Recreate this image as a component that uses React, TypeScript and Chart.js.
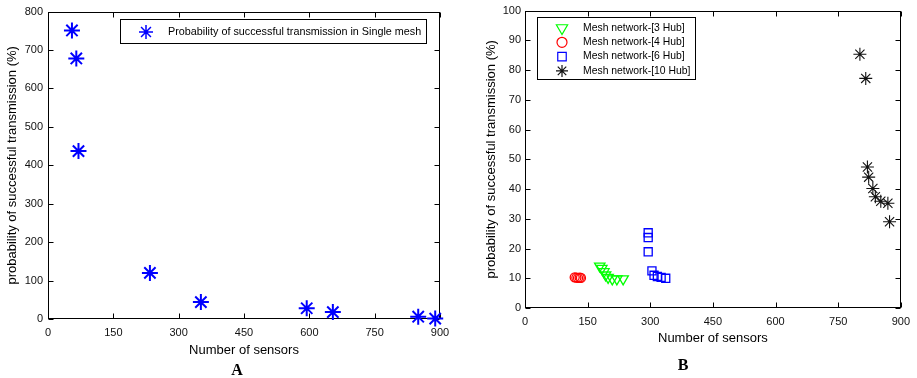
import React, { useEffect, useRef } from 'react';
import { Chart, registerables } from 'chart.js';
import { drawPoint } from 'chart.js/helpers';

Chart.register(...registerables);

// ---------- data ----------
const xTicks = [0, 150, 300, 450, 600, 750, 900];
const yTicksA = [0, 100, 200, 300, 400, 500, 600, 700, 800];
const yTicksB = [0, 10, 20, 30, 40, 50, 60, 70, 80, 90, 100];

const singleMeshX = [55, 65, 70, 234, 351, 594, 654, 850, 889];
const singleMeshY = [751, 678, 437, 120, 44, 28, 18, 6, 1];

const hub3X = [179, 184, 189, 193, 199, 209, 220, 235];
const hub3Y = [14.1, 13.3, 12.2, 11.1, 10.3, 9.8, 9.8, 9.8];
const hub4X = [119, 123, 127, 131, 134];
const hub4Y = [10.3, 10.2, 10.1, 10.2, 10.1];
const hub6X = [295, 295, 295, 304, 309, 317, 326, 337];
const hub6Y = [25.3, 23.7, 18.9, 12.5, 11.0, 10.6, 10.3, 10.0];
const hub10X = [802, 816, 820, 823, 833, 839, 852, 869, 873];
const hub10Y = [85.3, 77.2, 47.4, 44.0, 40.2, 37.4, 35.9, 35.2, 29.0];

const FONT = '"Liberation Sans", Arial, Helvetica, sans-serif';

const pts = (xs: number[], ys: number[]) => xs.map((x, i) => ({ x, y: ys[i] }));

// ---------- plugins ----------
const framePlugin = {
  id: 'frame',
  beforeDatasetsDraw(chart: any) {
    const { ctx, chartArea: a, scales } = chart;
    ctx.save();
    ctx.strokeStyle = '#000';
    ctx.lineWidth = 1;
    const L = Math.round(a.left) + 0.5;
    const R = Math.round(a.right) - 0.5;
    const T = Math.round(a.top) + 0.5;
    const B = Math.round(a.bottom) - 0.5;
    ctx.strokeRect(L, T, R - L, B - T);
    const tl = 5;
    ctx.beginPath();
    scales.x.ticks.forEach((t: any) => {
      const px = Math.round(scales.x.getPixelForValue(t.value)) + 0.5;
      ctx.moveTo(px, B);
      ctx.lineTo(px, B - tl);
      ctx.moveTo(px, T);
      ctx.lineTo(px, T + tl);
    });
    scales.y.ticks.forEach((t: any) => {
      const py = Math.round(scales.y.getPixelForValue(t.value)) + 0.5;
      ctx.moveTo(L, py);
      ctx.lineTo(L + tl, py);
      ctx.moveTo(R, py);
      ctx.lineTo(R - tl, py);
    });
    ctx.stroke();
    ctx.restore();
  },
};

const legendPlugin = {
  id: 'boxLegend',
  afterDatasetsDraw(chart: any, _args: any, o: any) {
    const { ctx } = chart;
    ctx.save();
    ctx.fillStyle = '#fff';
    ctx.fillRect(o.x, o.y, o.w, o.h);
    ctx.strokeStyle = '#000';
    ctx.lineWidth = 1;
    ctx.strokeRect(o.x + 0.5, o.y + 0.5, o.w, o.h);
    chart.data.datasets.forEach((ds: any, i: number) => {
      const cy = o.rowY + i * o.rowStep;
      ctx.save();
      ctx.strokeStyle = ds.pointBorderColor;
      ctx.fillStyle = 'rgba(0,0,0,0)';
      ctx.lineWidth = o.markerWidth || ds.pointBorderWidth;
      drawPoint(
        ctx,
        {
          pointStyle: ds.pointStyle,
          radius: o.markerRadius ? o.markerRadius[i] : ds.pointRadius,
          rotation: ds.pointRotation || 0,
          borderWidth: 1,
        } as any,
        o.markerX,
        cy
      );
      ctx.restore();
      ctx.fillStyle = '#000';
      ctx.font = `${o.fontSize}px ${FONT}`;
      ctx.textBaseline = 'middle';
      ctx.textAlign = 'left';
      ctx.fillText(ds.label, o.textX, cy);
    });
    ctx.restore();
  },
};

function makeScales(
  ymax: number,
  yTicks: number[],
  xHeight: number,
  yWidth: number,
  xTitlePad: number,
  yTitlePad: number,
  yTickPad: number
) {
  return {
    x: {
      type: 'linear',
      min: 0,
      max: 900,
      afterBuildTicks: (s: any) => {
        s.ticks = xTicks.map((v) => ({ value: v }));
      },
      afterFit: (s: any) => {
        s.height = xHeight;
      },
      grid: { display: false, drawTicks: false },
      border: { display: false },
      ticks: {
        padding: 7,
        color: '#111',
        autoSkip: false,
        maxRotation: 0,
        font: { family: FONT, size: 11 },
      },
      title: {
        display: true,
        text: 'Number of sensors',
        color: '#000',
        font: { family: FONT, size: 13 },
        padding: { top: 0, bottom: xTitlePad },
      },
    },
    y: {
      type: 'linear',
      min: 0,
      max: ymax,
      afterBuildTicks: (s: any) => {
        s.ticks = yTicks.map((v) => ({ value: v }));
      },
      afterFit: (s: any) => {
        s.width = yWidth;
      },
      grid: { display: false, drawTicks: false },
      border: { display: false },
      ticks: {
        padding: yTickPad,
        color: '#111',
        autoSkip: false,
        font: { family: FONT, size: 11 },
      },
      title: {
        display: true,
        text: 'probability of successful transmission (%)',
        color: '#000',
        font: { family: FONT, size: 13 },
        padding: { top: yTitlePad, bottom: 0 },
      },
    },
  };
}

export default function App() {
  const refA = useRef<HTMLCanvasElement>(null);
  const refB = useRef<HTMLCanvasElement>(null);

  useEffect(() => {
    const chartA = new Chart(refA.current as HTMLCanvasElement, {
      type: 'scatter',
      data: {
        datasets: [
          {
            label: 'Probability of successful transmission in Single mesh',
            data: pts(singleMeshX, singleMeshY),
            pointStyle: 'star',
            pointRadius: 8,
            pointBorderWidth: 2,
            pointBorderColor: '#0000ff',
            pointBackgroundColor: 'rgba(0,0,0,0)',
            clip: false,
          } as any,
        ],
      },
      options: {
        animation: false,
        responsive: false,
        events: [],
        layout: { padding: { left: 0, top: 9, right: 477, bottom: 0 } },
        scales: makeScales(800, yTicksA, 59, 48, 20, 5, 5) as any,
        plugins: {
          legend: { display: false },
          tooltip: { enabled: false },
          boxLegend: {
            x: 120,
            y: 19,
            w: 306,
            h: 24,
            markerX: 146,
            textX: 168,
            rowY: 32,
            rowStep: 14,
            fontSize: 10.8,
            markerRadius: [7],
            markerWidth: 1.5,
          },
        } as any,
      },
      plugins: [framePlugin, legendPlugin],
    });

    const chartB = new Chart(refB.current as HTMLCanvasElement, {
      type: 'scatter',
      data: {
        datasets: [
          {
            label: 'Mesh network-[3 Hub]',
            data: pts(hub3X, hub3Y),
            pointStyle: 'triangle',
            pointRotation: 180,
            pointRadius: 6,
            pointBorderWidth: 1.3,
            pointBorderColor: '#00ff00',
            pointBackgroundColor: 'rgba(0,0,0,0)',
            clip: false,
          } as any,
          {
            label: 'Mesh network-[4 Hub]',
            data: pts(hub4X, hub4Y),
            pointStyle: 'circle',
            pointRadius: 4.5,
            pointBorderWidth: 1.3,
            pointBorderColor: '#ff0000',
            pointBackgroundColor: 'rgba(0,0,0,0)',
            clip: false,
          } as any,
          {
            label: 'Mesh network-[6 Hub]',
            data: pts(hub6X, hub6Y),
            pointStyle: 'rect',
            pointRadius: 5.7,
            pointBorderWidth: 1.3,
            pointBorderColor: '#0000ff',
            pointBackgroundColor: 'rgba(0,0,0,0)',
            clip: false,
          } as any,
          {
            label: 'Mesh network-[10 Hub]',
            data: pts(hub10X, hub10Y),
            pointStyle: 'star',
            pointRadius: 6.5,
            pointBorderWidth: 1.1,
            pointBorderColor: '#111111',
            pointBackgroundColor: 'rgba(0,0,0,0)',
            clip: false,
          } as any,
        ],
      },
      options: {
        animation: false,
        responsive: false,
        events: [],
        layout: { padding: { left: 480, top: 8, right: 11, bottom: 0 } },
        scales: makeScales(100, yTicksB, 70, 45, 32, 4, 4) as any,
        plugins: {
          legend: { display: false },
          tooltip: { enabled: false },
          boxLegend: {
            x: 537,
            y: 17,
            w: 158,
            h: 62,
            markerX: 562,
            textX: 583,
            rowY: 28,
            rowStep: 14.3,
            fontSize: 10.4,
            markerRadius: [6.5, 5, 6, 6],
            markerWidth: 1.2,
          },
        } as any,
      },
      plugins: [framePlugin, legendPlugin],
    });

    return () => {
      chartA.destroy();
      chartB.destroy();
    };
  }, []);

  const letter: React.CSSProperties = {
    position: 'absolute',
    transform: 'translate(-50%, -50%)',
    font: 'bold 16px "Liberation Serif", "Times New Roman", serif',
    color: '#000',
    lineHeight: 1,
  };

  return (
    <div
      style={{
        position: 'fixed',
        left: 0,
        top: 0,
        width: 917,
        height: 378,
        background: '#fff',
        overflow: 'hidden',
      }}
    >
      <canvas
        ref={refA}
        width={917}
        height={378}
        style={{ position: 'absolute', left: 0, top: 0, width: 917, height: 378 }}
      />
      <canvas
        ref={refB}
        width={917}
        height={378}
        style={{ position: 'absolute', left: 0, top: 0, width: 917, height: 378 }}
      />
      <div style={{ ...letter, left: 237, top: 370 }}>A</div>
      <div style={{ ...letter, left: 683, top: 365 }}>B</div>
    </div>
  );
}
